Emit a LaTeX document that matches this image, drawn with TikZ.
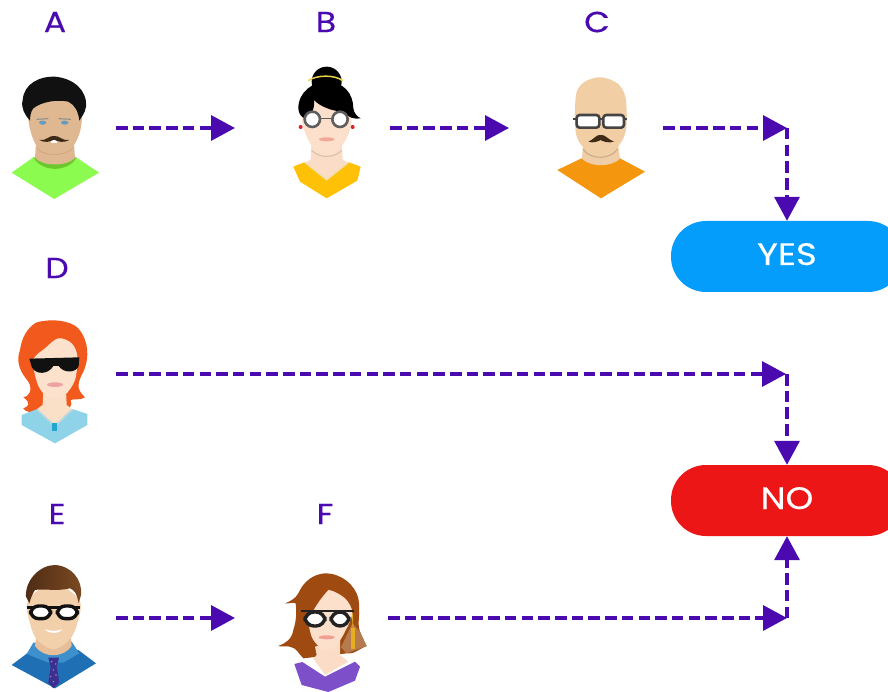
\documentclass[tikz,border=0pt]{standalone}
\usepackage{fontspec}
\setmainfont{Poppins}[FakeBold=0.35,FakeStretch=1.14]
\usetikzlibrary{arrows.meta}
\definecolor{pur}{HTML}{4A0AB0}
\definecolor{yesblue}{HTML}{049DFB}
\definecolor{nored}{HTML}{EC1616}
\newcommand{\dc}[1]{\definecolor{HTML#1}{HTML}{#1}}
\dc{8CFB50}\dc{6BC82B}\dc{CFA67E}\dc{DFB892}\dc{111111}\dc{5F9DC4}\dc{7F8C8D}\dc{3D2A18}\dc{FFC107}\dc{F0E0B0}\dc{FBDCC6}\dc{FCE0CC}\dc{D9BFA8}\dc{E8D24A}\dc{5E5E5E}\dc{D8232A}\dc{F0A898}\dc{F4960E}\dc{EFCDA6}\dc{F2CEA4}\dc{C9A883}\dc{444444}\dc{3E2A17}\dc{F2591C}\dc{8FD3E8}\dc{FBE0C8}\dc{D9D9D9}\dc{23A5D0}\dc{FCE2CC}\dc{EBA3A3}\dc{1F6FB5}\dc{3D90CC}\dc{3B2F8F}\dc{D070C0}\dc{E8BE98}\dc{F3D0AC}\dc{4F2C14}\dc{7B4A22}\dc{9E4A10}\dc{B57B4F}\dc{7D4FC8}\dc{F0A090}\dc{222222}\dc{E6AE1E}
\tikzset{
  flow/.style={draw=pur,line width=3.4pt,dash pattern=on 11.5pt off 5.2pt,-{Triangle[length=24pt,width=25pt,fill=pur]}},
  person/.style={text=pur,font=\fontsize{29}{29}\selectfont,inner sep=0pt},
  pill/.style={rectangle,rounded corners=35pt,minimum width=232pt,minimum height=71pt,inner sep=0pt,text=white,font=\fontsize{31}{31}\selectfont,text height=17pt,text depth=0pt},
  av/.style={x=0.33333pt,y=-0.33333pt},
  glass/.style={draw=#1,fill=white,line width=2pt}
}
\newcommand{\blob}[2]{\fill[#1] plot[smooth cycle,tension=0.55] coordinates {#2};}
\begin{document}
\begin{tikzpicture}[x=1pt,y=-1pt]
\useasboundingbox (0,0) rectangle (888,692);
\fill[white] (0,0) rectangle (888,692);

% ---------- A
\begin{scope}[av]
\fill[HTML8CFB50] (35,518) -- (100,472) -- (228,472) -- (297,518) -- (163,597) -- cycle;
\fill[HTML6BC82B] (100,472) .. controls (125,518) and (205,518) .. (230,472) -- cycle;
\fill[HTMLDFB892] (108,430) -- (105,474) .. controls (130,500) and (200,500) .. (225,474) -- (222,430) -- cycle;
\blob{HTMLDFB892}{(85,340) (92,395) (112,440) (150,462) (180,462) (218,440) (240,395) (245,340) (225,280) (105,280)}
\draw[HTMLCFA67E,line width=0.8pt] (112,445) .. controls (130,470) and (195,470) .. (218,445);
\fill[HTML111111] (68,300) .. controls (72,250) and (120,228) .. (165,230) .. controls (220,235) and (262,270) .. (258,320) .. controls (255,340) and (245,350) .. (238,362) .. controls (235,335) and (225,315) .. (205,305) .. controls (170,298) and (125,305) .. (100,325) .. controls (92,335) and (90,350) .. (90,362) .. controls (75,345) and (62,325) .. (68,300) -- cycle;
\fill[HTML5F9DC4] (128,368) ellipse [x radius=11,y radius=6];
\fill[HTML5F9DC4] (194,368) ellipse [x radius=11,y radius=6];
\draw[HTML7F8C8D,line width=1pt] (110,358) -- (145,356) (176,356) -- (212,358);
\fill[white] (152,420) rectangle (170,430);
\fill[HTML3D2A18] (118,420) .. controls (135,425) and (150,405) .. (162,408) .. controls (175,405) and (190,425) .. (208,420) .. controls (190,430) and (175,425) .. (162,419) .. controls (150,425) and (135,430) .. (118,420) -- cycle;
\end{scope}

% ---------- B
\begin{scope}[av,shift={(810,150)}]
\fill[HTMLFFC107] (70,350) -- (100,338) -- (240,338) -- (272,350) -- (262,392) -- (170,445) -- (90,395) -- cycle;
\fill[HTMLF0E0B0] (100,336) -- (170,392) -- (240,336) -- cycle;
\fill[HTMLFBDCC6] (125,270) -- (122,328) -- (108,338) -- (170,384) -- (232,338) -- (218,328) -- (215,270) -- cycle;
\blob{HTMLFCE0CC}{(100,190) (106,250) (135,300) (170,316) (205,300) (236,250) (240,190) (170,130)}
\draw[HTMLD9BFA8,line width=1pt] (125,302) .. controls (150,325) and (190,325) .. (215,302);
\fill[black] (170,95) circle [radius=45];
\draw[HTMLE8D24A,line width=1.5pt] (115,92) .. controls (140,74) and (195,74) .. (218,92);
\fill[black] (85,175) .. controls (85,125) and (130,95) .. (170,95) .. controls (220,95) and (250,130) .. (250,175) .. controls (252,190) and (262,200) .. (272,205) .. controls (255,208) and (235,205) .. (222,185) .. controls (190,185) and (150,170) .. (132,150) .. controls (135,175) and (125,195) .. (108,205) .. controls (95,205) and (85,190) .. (85,175) -- cycle;
\draw[glass=HTML5E5E5E,line width=2.6pt] (127,208) circle [radius=23];
\draw[glass=HTML5E5E5E,line width=2.6pt] (210,208) circle [radius=23];
\draw[HTML5E5E5E,line width=1.5pt] (150,205) -- (186,205);
\fill[HTMLD8232A] (92,231) circle [radius=6];
\fill[HTMLD8232A] (248,231) circle [radius=6];
\fill[HTMLF0A898] (170,268) ellipse [x radius=23,y radius=6];
\end{scope}

% ---------- C
\begin{scope}[av,shift={(1620,180)}]
\fill[HTMLF4960E] (52,330) -- (125,295) -- (240,295) -- (315,335) -- (183,415) -- cycle;
\fill[HTMLEFCDA6] (130,240) -- (126,296) .. controls (150,322) and (215,322) .. (240,296) -- (232,240) -- cycle;
\blob{HTMLF2CEA4}{(105,140) (112,90) (140,62) (185,52) (232,70) (256,110) (260,190) (250,235) (222,272) (180,288) (140,272) (112,235) (105,190)}
\draw[HTMLC9A883,line width=1pt] (130,268) .. controls (150,300) and (210,300) .. (232,268);
\draw[HTML444444,line width=2pt] (100,178) -- (262,178);
\draw[glass=HTML444444,line width=2.6pt,rounded corners=3pt] (110,165) rectangle (178,203);
\draw[glass=HTML444444,line width=2.6pt,rounded corners=3pt] (190,165) rectangle (252,203);
\fill[HTML3E2A17] (145,245) .. controls (160,240) and (170,222) .. (182,225) .. controls (195,222) and (205,240) .. (222,245) .. controls (205,250) and (190,245) .. (182,240) .. controls (172,245) and (160,250) .. (145,245) -- cycle;
\end{scope}

% ---------- D
\begin{scope}[av,shift={(0,930)}]
\fill[HTMLF2591C] (108,38) .. controls (150,25) and (210,30) .. (235,55) .. controls (265,90) and (270,140) .. (250,185) .. controls (235,215) and (225,235) .. (255,262) .. controls (240,272) and (225,265) .. (212,270) .. controls (220,285) and (205,305) .. (190,300) -- (115,300) .. controls (95,312) and (75,305) .. (70,295) .. controls (85,290) and (95,280) .. (70,262) .. controls (85,262) and (100,240) .. (85,215) .. controls (65,190) and (45,160) .. (60,120) .. controls (65,85) and (80,55) .. (108,38) -- cycle;
\fill[HTML8FD3E8] (65,315) -- (110,298) -- (220,298) -- (262,312) -- (262,345) -- (165,400) -- (65,345) -- cycle;
\fill[HTMLFBE0C8] (130,240) -- (128,285) -- (112,296) -- (165,345) -- (215,296) -- (200,285) -- (198,240) -- cycle;
\draw[HTMLD9D9D9,line width=0.8pt] (110,298) -- (160,345) (218,298) -- (170,345);
\fill[HTML23A5D0] (155,340) rectangle (170,362);
\blob{HTMLFCE2CC}{(100,150) (112,220) (135,255) (165,268) (195,255) (225,210) (232,140) (215,100) (175,85) (135,115)}
\fill[HTMLF2591C] (100,135) .. controls (125,130) and (135,100) .. (150,85) -- (140,70) -- (95,110) -- cycle;
\fill[HTMLEBA3A3] (165,224) ellipse [x radius=24,y radius=7];
\fill[HTML111111] (88,146) -- (238,142) -- (236,168) .. controls (228,190) and (190,190) .. (176,168) -- (160,168) .. controls (145,195) and (105,195) .. (95,170) -- cycle;
\end{scope}

% ---------- E
\begin{scope}[av,shift={(0,1680)}]
\fill[HTML1F6FB5] (35,315) -- (95,270) -- (235,270) -- (288,310) -- (165,385) -- cycle;
\fill[HTML3D90CC] (100,248) -- (80,282) -- (145,308) -- (190,308) -- (238,280) -- (215,245) -- cycle;
\fill[HTML3B2F8F] (145,293) -- (177,293) -- (170,320) -- (178,368) -- (160,385) -- (145,368) -- (152,320) -- cycle;
\foreach \px/\py in {155/305,167/312,160/330,168/345,152/350,160/365}{\fill[HTMLD070C0] (\px,\py) circle [radius=2.5];}
\fill[HTMLE8BE98] (110,220) -- (105,258) .. controls (130,295) and (190,295) .. (215,258) -- (212,220) -- cycle;
\blob{HTMLF3D0AC}{(85,120) (90,190) (112,240) (160,268) (208,240) (232,190) (238,120) (160,70)}
\shade[left color=HTML4F2C14,right color=HTML7B4A22] (78,110) .. controls (75,60) and (120,15) .. (165,15) .. controls (215,18) and (248,60) .. (243,105) -- (236,130) .. controls (230,100) and (225,92) .. (210,85) .. controls (170,95) and (130,85) .. (105,90) .. controls (98,100) and (92,115) .. (88,130) -- cycle;
\draw[HTML111111,line width=3pt] (80,142) -- (240,142);
\draw[glass=HTML111111,line width=3.4pt,rounded corners=8pt] (92,138) rectangle (152,176);
\draw[glass=HTML111111,line width=3.4pt,rounded corners=8pt] (172,138) rectangle (232,176);
\fill[white] (135,208) .. controls (150,214) and (170,214) .. (187,208) .. controls (178,222) and (145,222) .. (135,208) -- cycle;
\end{scope}

% ---------- F
\begin{scope}[av,shift={(795,1680)}]
\fill[HTML9E4A10] (180,40) .. controls (230,40) and (270,75) .. (280,115) .. controls (288,160) and (275,190) .. (285,215) .. controls (293,235) and (300,250) .. (305,258) .. controls (285,265) and (265,285) .. (245,280) -- (115,295) .. controls (100,280) and (95,265) .. (80,262) .. controls (65,255) and (50,262) .. (40,258) .. controls (60,250) and (80,240) .. (85,210) .. controls (95,180) and (95,150) .. (92,130) .. controls (85,125) and (70,132) .. (60,130) .. controls (75,125) and (92,115) .. (100,100) .. controls (115,65) and (145,42) .. (180,40) -- cycle;
\fill[HTMLB57B4F] (228,262) -- (262,190) -- (285,215) -- (305,258) -- (245,280) -- cycle;
\fill[HTML7D4FC8] (88,312) -- (112,306) -- (180,350) -- (270,305) -- (285,320) -- (270,362) -- (190,396) -- (110,375) -- cycle;
\fill[HTMLFBDCC6] (150,260) -- (155,285) -- (145,296) -- (180,345) -- (250,305) -- (225,285) -- (225,240) -- cycle;
\blob{HTMLFCE0CC}{(130,170) (140,230) (165,262) (190,270) (215,255) (240,215) (262,160) (240,115) (185,90) (150,130)}
\fill[HTML9E4A10] (135,170) .. controls (150,140) and (170,110) .. (190,90) -- (150,90) -- (120,170) -- cycle;
\fill[HTMLF0A090] (185,232) ellipse [x radius=24,y radius=6];
\draw[HTML222222,line width=2.5pt] (108,153) -- (268,153);
\draw[glass=HTML222222,line width=3.4pt,rounded corners=9pt] (120,156) rectangle (180,198);
\draw[glass=HTML222222,line width=3.4pt,rounded corners=9pt] (198,156) rectangle (252,198);
\fill[HTMLE6AE1E] (258,205) rectangle (271,266);
\draw[HTMLE6AE1E,line width=0.8pt] (262,160) -- (264,205);
\end{scope}

% ---------- labels
\node[person] (lA) at (55,22) {A};
\node[person] (lB) at (326,22) {B};
\node[person] (lC) at (597,22) {C};
\node[person] (lD) at (57,268) {D};
\node[person] (lE) at (57,514) {E};
\node[person] (lF) at (325,514) {F};

% ---------- outcomes
\node[pill,fill=yesblue] (yes) at (787,256.5) {YES\hspace{5pt}};
\node[pill,fill=nored] (no) at (787,500.5) {NO\hspace{5pt}};

% ---------- connectors
\coordinate (aOut) at (116,128);
\coordinate (bIn) at (235,128);
\coordinate (bOut) at (390,128);
\coordinate (cIn) at (509,128);
\coordinate (cOut) at (663,128);
\coordinate (yesCorner) at (787,128);
\coordinate (dOut) at (116,374);
\coordinate (noCornerTop) at (786,374);
\coordinate (eOut) at (116,618);
\coordinate (fIn) at (235,618);
\coordinate (fOut) at (388,618);
\coordinate (noCornerBot) at (787,618);
\draw[flow] (aOut) -- (bIn);
\draw[flow] (bOut) -- (cIn);
\draw[flow] (cOut) -- (yesCorner);
\draw[flow] (yesCorner) -- (yes.north);
\draw[flow] (dOut) -- (noCornerTop);
\draw[flow] (noCornerTop -| no.north) -- (no.north);
\draw[flow] (eOut) -- (fIn);
\draw[flow] (fOut) -- (noCornerBot);
\draw[flow] (noCornerBot) -- (no.south);
\end{tikzpicture}
\end{document}
